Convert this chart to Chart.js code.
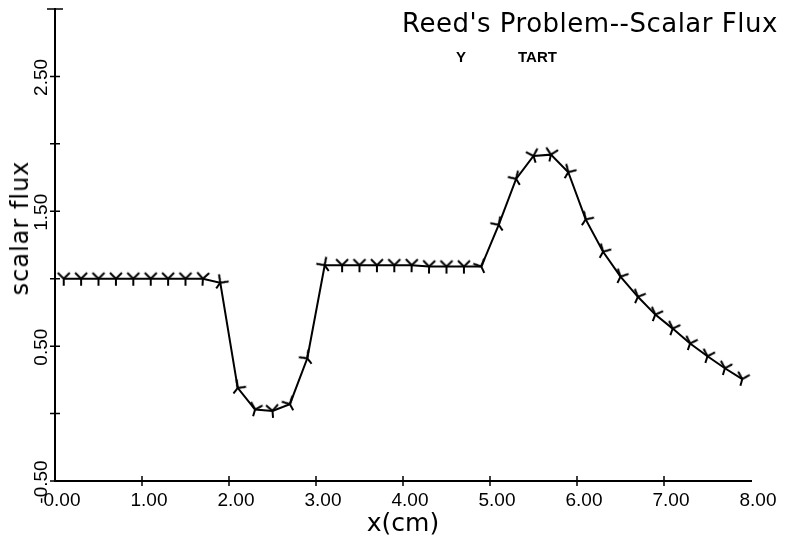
<!DOCTYPE html>
<html>
<head>
<meta charset="utf-8">
<script src="https://cdn.jsdelivr.net/npm/chart.js@4"></script>
<style>
  html, body { margin: 0; padding: 0; background: #fff; }
  #wrap { position: relative; width: 795px; height: 539px; }
  .txt { position: absolute; color: #000; white-space: nowrap; }
  #title { left: 402px; top: 8px; font: 26px "DejaVu Sans"; letter-spacing: 0.5px; }
  #ytitle { left: 20px; top: 228px; font: 24px "DejaVu Sans"; letter-spacing: 1px; transform: translate(-50%, -50%) rotate(-90deg); }
  .leg { top: 48px; font: bold 15px "Liberation Sans"; }
</style>
</head>
<body>
<div id="wrap">
  <canvas id="flux" width="795" height="539"></canvas>
  <div id="title" class="txt">Reed's Problem--Scalar Flux</div>
  <div id="ytitle" class="txt">scalar flux</div>
  <div class="txt leg" style="left:456px">Y</div>
  <div class="txt leg" style="left:518px">TART</div>
</div>
<script>
// data (cell centres, 0.2 cm apart)
const xPos = [0.1, 0.3, 0.5, 0.7, 0.9, 1.1, 1.3, 1.5, 1.7, 1.9,
              2.1, 2.3, 2.5, 2.7, 2.9,
              3.1, 3.3, 3.5, 3.7, 3.9, 4.1, 4.3, 4.5, 4.7, 4.9,
              5.1, 5.3, 5.5, 5.7, 5.9, 6.1, 6.3, 6.5, 6.7, 6.9, 7.1, 7.3, 7.5, 7.7, 7.9];
const flux = [1.00, 1.00, 1.00, 1.00, 1.00, 1.00, 1.00, 1.00, 1.00, 0.97,
              0.19, 0.03, 0.02, 0.07, 0.41,
              1.10, 1.10, 1.10, 1.10, 1.10, 1.10, 1.09, 1.09, 1.09, 1.09,
              1.40, 1.74, 1.91, 1.92, 1.79, 1.44, 1.20, 1.015, 0.866, 0.734, 0.63, 0.52, 0.425, 0.336, 0.256];
const yLabeled = [-0.5, 0.5, 1.5, 2.5];
const seriesName = 'TART';

// "Y" shaped marker
const mark = document.createElement('canvas');
mark.width = 16; mark.height = 16;
(function() {
  const c = mark.getContext('2d');
  c.strokeStyle = '#000';
  c.lineWidth = 2;
  c.beginPath();
  c.moveTo(2, 2); c.lineTo(8, 8); c.lineTo(14, 2);
  c.moveTo(8, 8); c.lineTo(8, 15);
  c.stroke();
})();

// crossing tick marks like the old plotter axes
const crossTicks = {
  id: 'crossTicks',
  afterDraw(chart) {
    const ctx = chart.ctx;
    const xs = chart.scales.x, ys = chart.scales.y;
    const area = chart.chartArea;
    ctx.save();
    ctx.strokeStyle = '#000';
    ctx.lineWidth = 1.5;
    ctx.beginPath();
    xs.ticks.forEach(t => {
      const px = xs.getPixelForValue(t.value);
      if (t.value === xs.min || t.value === xs.max) return;
      ctx.moveTo(px, area.bottom - 5); ctx.lineTo(px, area.bottom + 5);
    });
    ys.ticks.forEach(t => {
      const py = ys.getPixelForValue(t.value);
      const w = t.value === ys.max ? 8 : 5;
      ctx.moveTo(area.left - w, py); ctx.lineTo(area.left + w, py);
    });
    ctx.stroke();
    ctx.restore();
  }
};

function markAngle(ctx) {
  const chart = ctx.chart, i = ctx.dataIndex;
  const xs = chart.scales.x, ys = chart.scales.y;
  if (!xs || !ys) return 0;
  const a = Math.max(0, i - 1), b = Math.min(xPos.length - 1, i + 1);
  const dx = xs.getPixelForValue(xPos[b]) - xs.getPixelForValue(xPos[a]);
  const dy = ys.getPixelForValue(flux[b]) - ys.getPixelForValue(flux[a]);
  return Math.atan2(dy, dx) * 180 / Math.PI * 0.5;
}

new Chart(document.getElementById('flux'), {
  type: 'line',
  data: {
    datasets: [{
      label: seriesName,
      data: xPos.map((x, i) => ({ x: x, y: flux[i] })),
      borderColor: '#000',
      borderWidth: 2,
      pointStyle: mark,
      rotation: markAngle,
      tension: 0
    }]
  },
  options: {
    responsive: false,
    animation: false,
    layout: { padding: { top: 9, right: 44, left: 0, bottom: 0 } },
    plugins: {
      legend: { display: false },
      tooltip: { enabled: false }
    },
    scales: {
      x: {
        type: 'linear',
        min: 0, max: 8,
        afterFit: s => { s.height = 58; },
        grid: { display: false, drawTicks: false },
        border: { display: true, color: '#000', width: 2 },
        ticks: {
          stepSize: 1,
          labelOffset: 7,
          padding: 8,
          color: '#000',
          font: { family: 'Liberation Sans', size: 19 },
          callback: v => v.toFixed(2)
        },
        title: {
          display: true,
          text: 'x(cm)',
          color: '#000',
          font: { family: 'DejaVu Sans', size: 25 },
          padding: { top: 0, bottom: 0 }
        }
      },
      y: {
        min: -0.5, max: 3.0,
        afterFit: s => { s.width = 55; },
        grid: { display: false, drawTicks: false },
        border: { display: true, color: '#000', width: 2 },
        ticks: {
          stepSize: 0.5,
          minRotation: 90,
          maxRotation: 90,
          crossAlign: 'center',
          padding: -8,
          labelOffset: 1,
          color: '#000',
          font: { family: 'Liberation Sans', size: 19 },
          callback: v => yLabeled.some(l => Math.abs(l - v) < 1e-6) ? v.toFixed(2) : ''
        }
      }
    }
  },
  plugins: [crossTicks]
});
</script>
</body>
</html>
